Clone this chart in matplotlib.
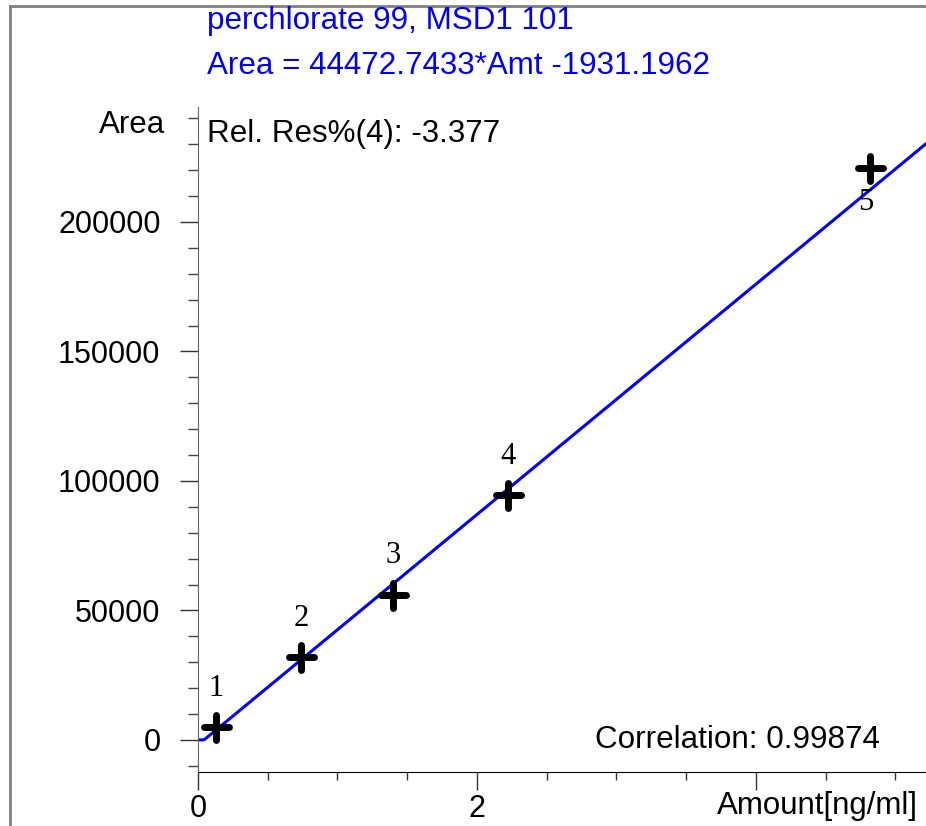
import numpy as np
import matplotlib
matplotlib.use('Agg')
import matplotlib.pyplot as plt
from matplotlib.ticker import MultipleLocator
from matplotlib.lines import Line2D
from matplotlib.markers import MarkerStyle

# calibration points
levels = ['1', '2', '3', '4', '5']
amounts = [0.129, 0.738, 1.398, 2.222, 4.817]
areas = [5000, 32000, 56000, 94600, 220800]
slope = 44472.7433
intercept = -1931.1962

title1 = 'perchlorate 99, MSD1 101'
title2 = 'Area = 44472.7433*Amt -1931.1962'
relres = 'Rel. Res%(4): -3.377'
corr = 'Correlation: 0.99874'

plt.rcParams['font.family'] = ['Liberation Sans', 'DejaVu Sans']

W, H = 926, 826
fig = plt.figure(figsize=(W / 100, H / 100), dpi=100)
ax = fig.add_axes([198 / W, (H - 772) / H, 1 - 198 / W, (772 - 107) / H])

# fit line, clipped at zero like the original
xs = np.linspace(0, 5.3, 400)
ys = np.maximum(0, slope * xs + intercept)
ax.plot(xs, ys, color='#0000ff', lw=2.2, zorder=2)

plus = MarkerStyle('+', capstyle='round')
ax.plot(amounts, areas, ls='none', marker=plus, ms=18, mew=5, color='black', zorder=3)
for lab, x, y in zip(levels, amounts, areas):
    dy = -25 if lab == '5' else 28
    dx = -3 if lab == '5' else 0
    ax.annotate(lab, (x, y), xytext=(dx, dy), textcoords='offset points',
                ha='center', va='center', fontsize=22, family='Liberation Serif')

ax.set_xlim(0, 5.22)
ax.set_ylim(-12400, 244400)
ax.spines['top'].set_visible(False)
ax.spines['right'].set_visible(False)
ax.spines['left'].set_color('#666666')

ax.yaxis.set_major_locator(MultipleLocator(50000))
ax.yaxis.set_minor_locator(MultipleLocator(10000))
ax.xaxis.set_minor_locator(MultipleLocator(0.5))
ax.set_xticks([0, 2, 4])
ax.set_xticklabels(['0', '2', ''])

ax.tick_params(axis='y', which='major', length=13, width=1, color='#333333',
               labelsize=22, pad=14)
ax.tick_params(axis='y', which='minor', length=7, width=1, color='#444444')
ax.tick_params(axis='x', which='major', length=13, width=1, color='#333333',
               labelsize=22, pad=3)
ax.tick_params(axis='x', which='minor', length=6, width=1, color='#333333')

fig.text(165 / W, 1 - 125 / H, 'Area', ha='right', va='center', fontsize=22.5)
fig.text(918 / W, 1 - 806 / H, 'Amount[ng/ml]', ha='right', va='center', fontsize=22.5)
fig.text(207 / W, 1 - 21 / H, title1, ha='left', va='center', fontsize=22.6, color='#0000ff')
fig.text(207 / W, 1 - 66 / H, title2, ha='left', va='center', fontsize=22.6, color='#0000ff')
fig.text(207 / W, 1 - 134 / H, relres, ha='left', va='center', fontsize=22.6)
fig.text(880 / W, 1 - 740 / H, corr, ha='right', va='center', fontsize=22.6)

# outer frame
fig.add_artist(Line2D([10 / W, 10 / W], [0, 1 - 6 / H], transform=fig.transFigure,
                      color='#808080', lw=2))
fig.add_artist(Line2D([10 / W, 1], [1 - 6 / H, 1 - 6 / H], transform=fig.transFigure,
                      color='#808080', lw=2))

fig.savefig('out.png', dpi=100)
